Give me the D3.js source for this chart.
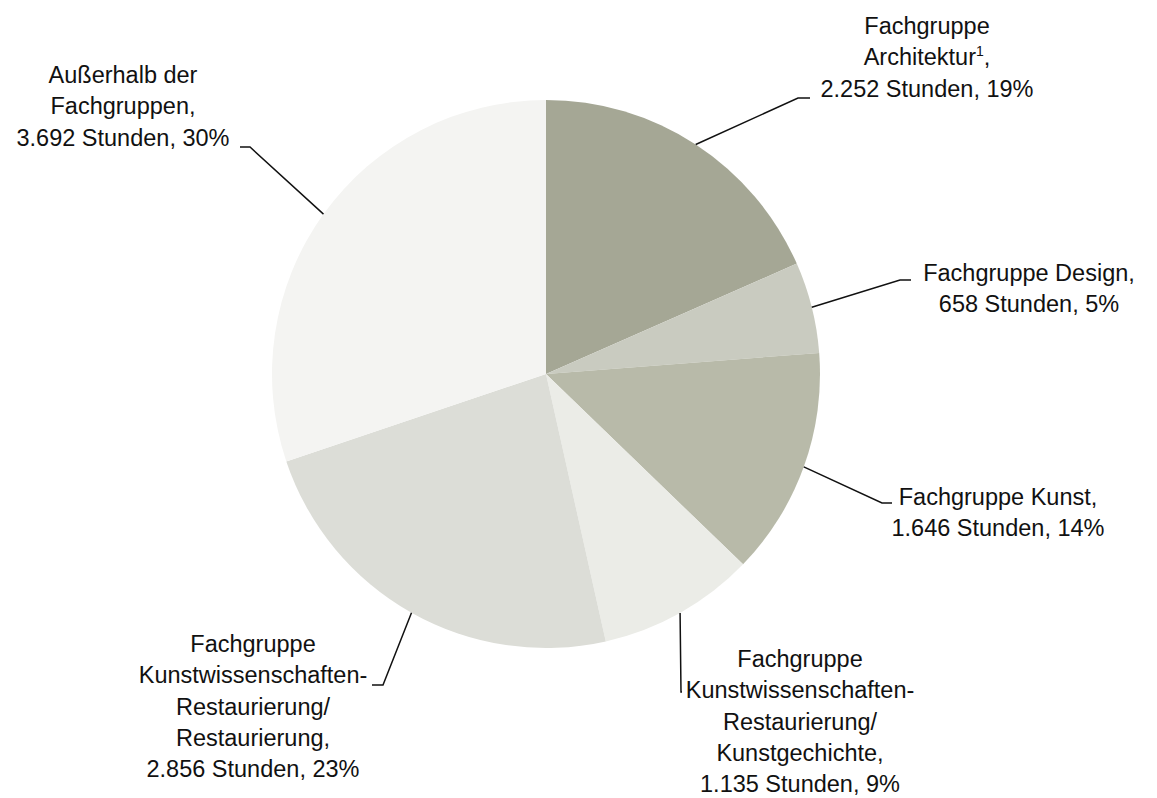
<!DOCTYPE html>
<html>
<head>
<meta charset="utf-8">
<script src="https://cdn.jsdelivr.net/npm/d3@7"></script>
<style>
  body { margin: 0; background: #fff; }
  text { font-family: "Liberation Sans", Arial, Helvetica, sans-serif; fill: #111; }
</style>
</head>
<body>
<div id="chart"></div>
<script>
// ===== Daten =====
const categories = [
  "Fachgruppe Architektur",
  "Fachgruppe Design",
  "Fachgruppe Kunst",
  "Fachgruppe Kunstwissenschaften-Restaurierung/Kunstgechichte",
  "Fachgruppe Kunstwissenschaften-Restaurierung/Restaurierung",
  "Außerhalb der Fachgruppen"
];
const hours = [2252, 658, 1646, 1135, 2856, 3692];
const percents = [19, 5, 14, 9, 23, 30];
const colors = ["#a5a795", "#c9cbc0", "#b8baa9", "#ebece7", "#dcddd7", "#f4f4f2"];

// Beschriftungszeilen (sup = hochgestellte Fußnote)
const labelLines = [
  ["Fachgruppe", "Architektur|1|,", "2.252 Stunden, 19%"],
  ["Fachgruppe Design,", "658 Stunden, 5%"],
  ["Fachgruppe Kunst,", "1.646 Stunden, 14%"],
  ["Fachgruppe", "Kunstwissenschaften-", "Restaurierung/", "Kunstgechichte,", "1.135 Stunden, 9%"],
  ["Fachgruppe", "Kunstwissenschaften-", "Restaurierung/", "Restaurierung,", "2.856 Stunden, 23%"],
  ["Außerhalb der", "Fachgruppen,", "3.692 Stunden, 30%"]
];

// ===== Layout =====
const W = 1157, H = 798;
const cx = 546, cy = 374, R = 274;
const lineH = 31.3;
// Textmitte x, erste Grundlinie y, Knickpunkt, Ende des waagrechten Stücks
const labelLayout = [
  { x: 927, y: 34, elbow: [798, 98], end: [810, 98] },
  { x: 1029, y: 281, elbow: [900, 280], end: [911, 280] },
  { x: 998, y: 505, elbow: [882, 503], end: [892, 503] },
  { x: 800, y: 667, elbow: [681, 692], end: [682, 692] },
  { x: 253, y: 652, elbow: [383, 685], end: [372, 685] },
  { x: 123, y: 83, elbow: [250, 147], end: [240, 147] }
];

const svg = d3.select("#chart")
  .append("svg")
  .attr("width", W)
  .attr("height", H);

const g = svg.append("g")
  .attr("transform", `translate(${cx},${cy})`);

const pie = d3.pie().sort(null).value(d => d);
const arcs = pie(hours);
const arc = d3.arc().innerRadius(0).outerRadius(R);
const edgeArc = d3.arc().innerRadius(R).outerRadius(R);

g.selectAll(".slice")
  .data(arcs)
  .enter()
  .append("path")
  .attr("class", "slice")
  .attr("d", arc)
  .attr("fill", (d, i) => colors[i]);

// Führungslinien
svg.selectAll(".leader")
  .data(arcs)
  .enter()
  .append("polyline")
  .attr("class", "leader")
  .attr("fill", "none")
  .attr("stroke", "#111")
  .attr("stroke-width", 1.5)
  .attr("points", (d, i) => {
    const c = edgeArc.centroid(d);
    const L = labelLayout[i];
    return [[c[0] + cx, c[1] + cy], L.elbow, L.end].map(p => p.join(",")).join(" ");
  });

// Beschriftungen
labelLines.forEach((lines, i) => {
  const L = labelLayout[i];
  const t = svg.append("text")
    .attr("text-anchor", "middle")
    .attr("font-size", "23.5px");
  lines.forEach((ln, j) => {
    const parts = ln.split("|");
    const row = t.append("tspan")
      .attr("x", L.x)
      .attr("y", L.y + j * lineH);
    if (parts.length === 1) {
      row.text(ln);
    } else {
      row.text(parts[0]);
      t.append("tspan").attr("font-size", "14px").attr("dy", -9).text(parts[1]);
      t.append("tspan").attr("dy", 9).text(parts[2]);
    }
  });
});
</script>
</body>
</html>
